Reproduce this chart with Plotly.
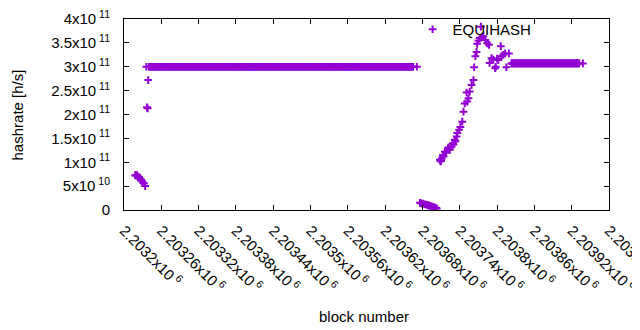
import plotly.graph_objects as go

# ---------------- data ----------------
seg_a_blocks = [2203218, 2203219, 2203221, 2203222, 2203224, 2203225, 2203227,
                2203228, 2203229, 2203231, 2203232, 2203234]
seg_a_values = [7.3e10, 7.2e10, 7.3e10, 7.0e10, 6.9e10, 6.7e10, 6.4e10,
                6.2e10, 6.0e10, 5.7e10, 5.6e10, 5.0e10]

seg_b_blocks = [2203236, 2203237, 2203238, 2203239]
seg_b_values = [3.0e11, 2.15e11, 2.13e11, 2.72e11]

flat1_start, flat1_end, flat1_value = 2203240, 2203665, 3.0e11
flat1_extra_blocks = [2203671]
flat1_extra_values = [3.0e11]

seg_c_blocks = [2203676, 2203678, 2203680, 2203681, 2203683, 2203685, 2203687,
                2203689, 2203690, 2203692, 2203694, 2203696, 2203698, 2203700,
                2203702, 2203703]
seg_c_values = [1.5e10, 1.4e10, 1.3e10, 1.35e10, 1.2e10, 1.15e10, 1.05e10,
                1.0e10, 0.9e10, 0.85e10, 0.75e10, 0.7e10, 0.6e10, 0.5e10,
                0.4e10, 0.3e10]

seg_d_blocks = [2203708, 2203709, 2203710, 2203711, 2203713, 2203714, 2203716,
                2203718, 2203721, 2203722, 2203724, 2203727, 2203729, 2203730,
                2203732, 2203733, 2203735, 2203736, 2203739, 2203741, 2203744,
                2203746, 2203748, 2203751, 2203752, 2203754, 2203756, 2203759,
                2203762, 2203763, 2203765, 2203767, 2203768, 2203770, 2203772,
                2203774, 2203776, 2203778, 2203781, 2203784, 2203787, 2203788,
                2203791, 2203794, 2203797, 2203798, 2203800, 2203802, 2203806,
                2203807, 2203810, 2203813, 2203815, 2203819]
seg_d_values = [1.05e11, 1.02e11, 1.03e11, 1.08e11, 1.15e11, 1.12e11, 1.22e11,
                1.20e11, 1.29e11, 1.31e11, 1.26e11, 1.33e11, 1.40e11, 1.37e11,
                1.47e11, 1.44e11, 1.54e11, 1.61e11, 1.68e11, 1.74e11, 1.85e11,
                2.06e11, 2.23e11, 2.46e11, 2.27e11, 2.34e11, 2.48e11, 2.62e11,
                2.72e11, 2.99e11, 3.22e11, 3.31e11, 3.48e11, 3.55e11, 3.60e11,
                3.84e11, 3.62e11, 3.64e11, 3.56e11, 3.49e11, 3.46e11, 3.08e11,
                3.18e11, 3.15e11, 2.97e11, 3.00e11, 3.17e11, 3.14e11, 3.43e11,
                3.22e11, 3.25e11, 3.28e11, 2.99e11, 3.28e11]

flat2_start, flat2_end, flat2_value = 2203823, 2203932, 3.07e11
flat2_extra_blocks = [2203938]
flat2_extra_values = [3.07e11]

x_tick_vals = [2203200 + 60 * i for i in range(14)]
x_tick_text = ["2.2032x10<sup> 6</sup>", "2.20326x10<sup> 6</sup>", "2.20332x10<sup> 6</sup>",
               "2.20338x10<sup> 6</sup>", "2.20344x10<sup> 6</sup>", "2.2035x10<sup> 6</sup>",
               "2.20356x10<sup> 6</sup>", "2.20362x10<sup> 6</sup>", "2.20368x10<sup> 6</sup>",
               "2.20374x10<sup> 6</sup>", "2.2038x10<sup> 6</sup>", "2.20386x10<sup> 6</sup>",
               "2.20392x10<sup> 6</sup>", "2.20398x10<sup> 6</sup>"]
y_tick_vals = [0, 5e10, 1e11, 1.5e11, 2e11, 2.5e11, 3e11, 3.5e11, 4e11]
y_tick_text = ["0", "5x10<sup> 10</sup>", "1x10<sup> 11</sup>", "1.5x10<sup> 11</sup>",
               "2x10<sup> 11</sup>", "2.5x10<sup> 11</sup>", "3x10<sup> 11</sup>",
               "3.5x10<sup> 11</sup>", "4x10<sup> 11</sup>"]

# ---------------- assemble ----------------
flat1_blocks = list(range(flat1_start, flat1_end + 1))
flat2_blocks = list(range(flat2_start, flat2_end + 1))

xs = (seg_a_blocks + seg_b_blocks + flat1_blocks + flat1_extra_blocks
      + seg_c_blocks + seg_d_blocks + flat2_blocks + flat2_extra_blocks)
ys = (seg_a_values + seg_b_values + [flat1_value] * len(flat1_blocks) + flat1_extra_values
      + seg_c_values + seg_d_values + [flat2_value] * len(flat2_blocks) + flat2_extra_values)

color = "#9400D3"
fig = go.Figure()
fig.add_trace(go.Scatter(
    x=xs, y=ys, mode="markers", name="EQUIHASH",
    marker=dict(symbol="cross-thin", size=5.5, color=color,
                line=dict(color=color, width=2)),
))

font_family = "Liberation Sans, Arial, sans-serif"
# page body has an 8px default margin, so the figure is sized/offset to compensate
fig.update_layout(
    width=632, height=322,
    margin=dict(l=116, r=31, t=11, b=120, autoexpand=False),
    paper_bgcolor="white", plot_bgcolor="white",
    font=dict(family=font_family, size=15, color="black"),
    showlegend=True,
    legend=dict(x=0.595, y=0.945, xanchor="left", yanchor="middle",
                bgcolor="rgba(0,0,0,0)", font=dict(size=15)),
    annotations=[
        dict(text="hashrate [h/s]", xref="paper", yref="paper",
             x=-0.2186, y=0.5, xanchor="center", yanchor="middle",
             textangle=-90, showarrow=False, font=dict(size=15)),
        dict(text="block number", xref="paper", yref="paper",
             x=0.495, y=-0.555, xanchor="center", yanchor="middle",
             showarrow=False, font=dict(size=15)),
    ],
)
fig.update_xaxes(
    range=[2203200, 2203980], tickmode="array", tickvals=x_tick_vals, ticktext=x_tick_text,
    tickangle=45, ticks="inside", ticklen=5, tickcolor="black", ticklabelstandoff=5,
    showline=True, linecolor="black", linewidth=1, mirror="ticks",
    showgrid=False, zeroline=False, automargin=False, ticklabeloverflow="allow",
)
fig.update_yaxes(
    range=[0, 4e11], tickmode="array", tickvals=y_tick_vals, ticktext=y_tick_text,
    ticks="inside", ticklen=5, tickcolor="black", ticklabelstandoff=10,
    showline=True, linecolor="black", linewidth=1, mirror="ticks",
    showgrid=False, zeroline=False, automargin=False, ticklabeloverflow="allow",
)

fig.write_html("out.html")
